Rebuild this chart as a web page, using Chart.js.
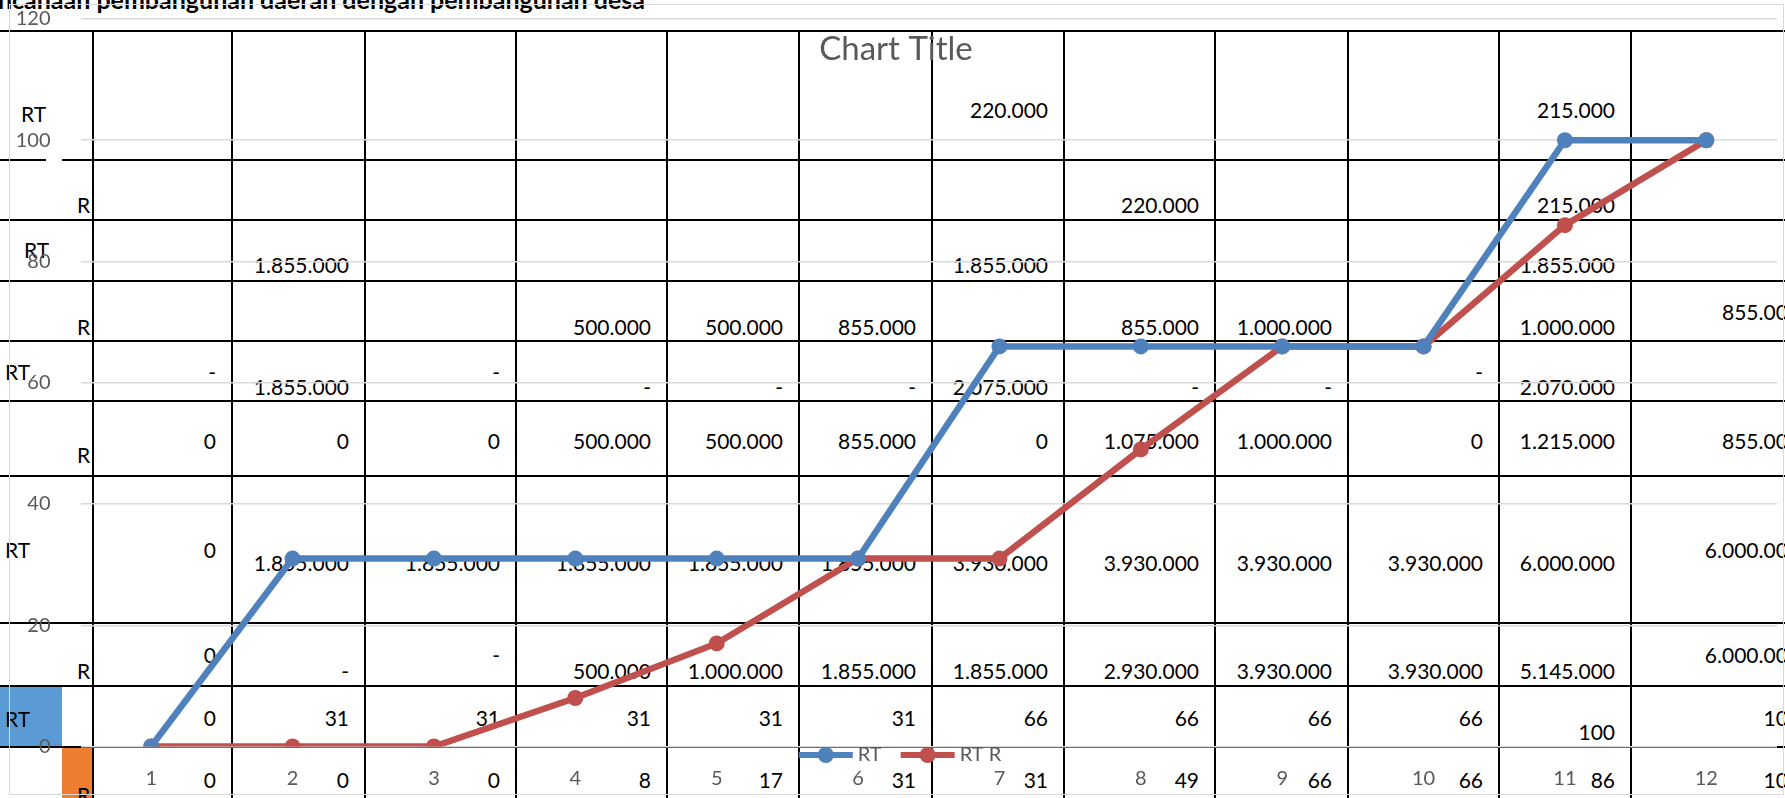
<!DOCTYPE html>
<html>
<head>
<meta charset="utf-8">
<script src="https://cdn.jsdelivr.net/npm/chart.js@4.4.1/dist/chart.umd.min.js"></script>
<style>
  body { margin: 0; background: #fff; }
  #sheet { position: relative; width: 1785px; height: 798px; overflow: hidden; background: #fff; font-family: Lato, sans-serif; }
  .hline, .vline { position: absolute; background: #000; }
  .cell { position: absolute; height: 26px; line-height: 26px; font-size: 21px; color: #000; white-space: nowrap; }
  #heading { position: absolute; right: 1140px; top: -13px; font-size: 25px; line-height: 25px; font-weight: bold; white-space: nowrap; }
  #chart-border { position: absolute; left: 9px; top: 4px; width: 1773px; height: 789px; border: 1px solid #d9d9d9; }
  #chart { position: absolute; left: 0; top: 0; }
</style>
</head>
<body>
<div id="sheet">
  <div id="heading">Perencanaan pembangunan daerah dengan pembangunan desa</div>
  <div id="chart-border"></div>
  <canvas id="chart" width="1785" height="798"></canvas>
</div>
<script>
// chart data
const categories = ["1", "2", "3", "4", "5", "6", "7", "8", "9", "10", "11", "12"];
const rtValues = [0, 31, 31, 31, 31, 31, 66, 66, 66, 66, 100, 100];
const rtRValues = [0, 0, 0, 8, 17, 31, 31, 49, 66, 66, 86, 100];
const seriesNames = ["RT", "RT R"];
const chartTitle = "Chart Title";
const yMax = 120;
const yStep = 20;

// spreadsheet behind the chart
const colLines = [92.5, 232, 365, 516, 667, 799, 932, 1064, 1215, 1348, 1499, 1631, 1816];
const rowLines = [31, 159.5, 220, 281, 341, 401, 476, 623, 686, 747];
const sheetRows = [
  { y: 110, cells: ["", "", "", "", "", "", "220.000", "", "", "", "215.000", ""] },
  { y: 205, cells: ["", "", "", "", "", "", "", "220.000", "", "", "215.000", ""] },
  { y: 265, cells: ["", "1.855.000", "", "", "", "", "1.855.000", "", "", "", "1.855.000", ""] },
  { y: 327, cells: ["", "", "", "500.000", "500.000", "855.000", "", "855.000", "1.000.000", "", "1.000.000", ["855.000", 312]] },
  { y: 387, cells: [["-", 372], "1.855.000", ["-", 372], "-", "-", "-", "2.075.000", "-", "-", ["-", 372], "2.070.000", ""] },
  { y: 441, cells: ["0", "0", "0", "500.000", "500.000", "855.000", "0", "1.075.000", "1.000.000", "0", "1.215.000", "855.000"] },
  { y: 563, cells: [["0", 550], "1.855.000", "1.855.000", "1.855.000", "1.855.000", "1.855.000", "3.930.000", "3.930.000", "3.930.000", "3.930.000", "6.000.000", ["6.000.000", 550]] },
  { y: 671, cells: [["0", 655], "-", ["-", 655], "500.000", "1.000.000", "1.855.000", "1.855.000", "2.930.000", "3.930.000", "3.930.000", "5.145.000", ["6.000.000", 655]] },
  { y: 718, cells: ["0", "31", "31", "31", "31", "31", "66", "66", "66", "66", ["100", 732], "100"] },
  { y: 780, cells: ["0", "0", "0", "8", "17", "31", "31", "49", "66", "66", "86", "100"] },
];
const rowLabels = [
  ["RT", 21, 114], ["R", 77, 205], ["RT", 24, 250], ["R", 77, 327], ["RT", 5, 372],
  ["R", 77, 455], ["RT", 5, 550], ["R", 77, 671], ["RT", 5, 719], ["R", 77, 795],
];

const sheet = document.querySelector("#sheet");
const border = document.querySelector("#chart-border");

const addDiv = (cls, style, text) => {
  const d = document.createElement("div");
  d.className = cls;
  Object.assign(d.style, style);
  if (text) d.textContent = text;
  sheet.insertBefore(d, border);
  return d;
};

// coloured boxes in column A
addDiv("box", { position: "absolute", left: "0px", top: "686px", width: "62px", height: "61px", background: "#5b9bd5" });
addDiv("box", { position: "absolute", left: "62px", top: "747px", width: "31px", height: "60px", background: "#ed7d31" });

rowLines.forEach((y, i) => {
  if (i === 1) {
    addDiv("hline", { left: "0px", top: y - 1 + "px", width: "46px", height: "2px" });
    addDiv("hline", { left: "62px", top: y - 1 + "px", width: "1723px", height: "2px" });
  } else {
    addDiv("hline", { left: "0px", top: y - 1 + "px", width: "1785px", height: "2px" });
  }
});
colLines.forEach((x) => {
  addDiv("vline", { left: x - 1 + "px", top: "31px", width: "2px", height: "767px" });
});

sheetRows.forEach((row) => {
  row.cells.forEach((cell, i) => {
    if (!cell) return;
    const [text, y] = Array.isArray(cell) ? cell : [cell, row.y];
    const right = colLines[i + 1] - 16;
    addDiv("cell", { right: 1785 - right + "px", top: y - 13 + "px" }, text);
  });
});

rowLabels.forEach(([text, x, y]) => {
  addDiv("cell", { left: x + "px", top: y - 13 + "px" }, text);
});

// title and legend are drawn over the plot, like the Excel chart
const overlayPlugin = {
  id: "excelOverlay",
  afterDraw(chart) {
    const ctx = chart.ctx;
    ctx.save();
    ctx.fillStyle = "#595959";
    ctx.font = "33px Lato";
    ctx.textAlign = "center";
    ctx.textBaseline = "middle";
    ctx.fillText(chartTitle, 896, 49);

    ctx.font = "20px Lato";
    ctx.textAlign = "left";
    const lineLen = 54;
    const items = chart.data.datasets.map((ds) => ({ ds, w: lineLen + 5 + ctx.measureText(ds.label).width }));
    const total = items.reduce((s, it) => s + it.w, 0) + 19 * (items.length - 1);
    let x = 900 - total / 2;
    const y = 755;
    items.forEach(({ ds, w }) => {
      ctx.strokeStyle = ds.borderColor;
      ctx.lineWidth = 6;
      ctx.beginPath();
      ctx.moveTo(x, y);
      ctx.lineTo(x + lineLen, y);
      ctx.stroke();
      ctx.fillStyle = ds.borderColor;
      ctx.beginPath();
      ctx.arc(x + lineLen / 2, y, 8, 0, Math.PI * 2);
      ctx.fill();
      ctx.fillStyle = "#595959";
      ctx.fillText(ds.label, x + lineLen + 5, y);
      x += w + 19;
    });
    ctx.restore();
  },
};

const makeDataset = (label, data, color) => ({
  label,
  data,
  borderColor: color,
  backgroundColor: color,
  borderWidth: 6.5,
  pointRadius: 8,
  pointBackgroundColor: color,
  pointBorderColor: color,
  pointBorderWidth: 0,
  tension: 0,
  fill: false,
});

const ctx = document.querySelector("#chart").getContext("2d");
new Chart(ctx, {
  type: "line",
  data: {
    labels: categories,
    datasets: [
      makeDataset(seriesNames[0], rtValues, "#4f81bd"),
      makeDataset(seriesNames[1], rtRValues, "#c0504d"),
    ],
  },
  options: {
    responsive: false,
    animation: false,
    devicePixelRatio: 1,
    layout: { padding: { left: 8, right: 3, top: 19, bottom: 7.5 } },
    plugins: {
      legend: { display: false },
      title: { display: false },
      tooltip: { enabled: false },
    },
    scales: {
      x: {
        type: "category",
        offset: true,
        grid: { display: false, drawTicks: false },
        border: { display: false },
        ticks: { color: "#595959", font: { family: "Lato", size: 20 }, padding: 20, maxRotation: 0, autoSkip: false },
        afterFit: (scale) => { scale.height = 44; },
      },
      y: {
        min: 0,
        max: yMax,
        grid: { color: "#d9d9d9", lineWidth: 1.5, drawTicks: false },
        border: { display: false },
        ticks: { stepSize: yStep, color: "#595959", font: { family: "Lato", size: 20 }, padding: 30 },
        afterFit: (scale) => {
          scale.width = 72.5;
          scale.paddingTop = 0;
          scale.paddingBottom = 0;
        },
      },
    },
  },
  plugins: [overlayPlugin],
});
</script>
</body>
</html>
